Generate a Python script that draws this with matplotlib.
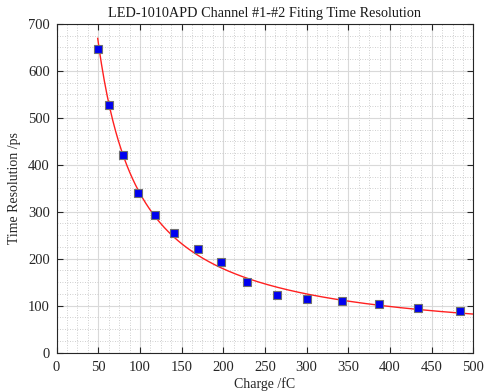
import numpy as np
import matplotlib
matplotlib.use("Agg")
import matplotlib.pyplot as plt
from matplotlib.ticker import MultipleLocator

# Measured time resolution versus collected charge
charge_fc = [50, 63, 80, 98, 118, 141, 169.5, 197, 228, 264, 301, 342, 387, 433, 484]
resolution_ps = [646, 527, 420, 340, 294, 254, 220, 194, 151, 123, 114, 110, 104, 96, 89]

# Fit model: sigma(Q) = a/Q + c
fit_a = 32100.0
fit_c = 18.0
fit_range = (49.3, 500)

plt.rcParams["font.family"] = ["Liberation Serif", "DejaVu Serif"]

fig = plt.figure(figsize=(4.88, 3.91), dpi=100)
ax = fig.add_axes([0.116, 0.098, 0.854, 0.841])

q = np.linspace(fit_range[0], fit_range[1], 400)
ax.plot(q, fit_a / q + fit_c, color="#ff2020", lw=1.0, zorder=3)
ax.plot(charge_fc, resolution_ps, ls="none", marker="s", ms=6.3,
        mfc="#0000f0", mec="#707070", mew=0.8, zorder=4)

ax.set_xlim(0, 500)
ax.set_ylim(0, 700)
ax.xaxis.set_major_locator(MultipleLocator(50))
ax.xaxis.set_minor_locator(MultipleLocator(12.5))
ax.yaxis.set_major_locator(MultipleLocator(100))
ax.yaxis.set_minor_locator(MultipleLocator(25))

ax.grid(which="major", color="#d9d9d9", lw=0.8, ls="-")
ax.grid(which="minor", color="#c0c0c0", lw=0.6, ls=(0, (1, 2)))
ax.set_axisbelow(True)

ax.tick_params(which="major", direction="in", length=4, width=0.8, top=True, right=True,
               labelsize=10.5, colors="#262626", labelcolor="#262626")
ax.tick_params(axis="x", which="major", pad=6)
ax.tick_params(axis="y", which="major", pad=5)
ax.tick_params(which="minor", length=0, top=True, right=True)
for s in ax.spines.values():
    s.set_color("#262626")
    s.set_linewidth(0.8)

ax.set_title("LED-1010APD Channel #1-#2 Fiting Time Resolution", fontsize=10.3, color="#1a1a1a", pad=5)
ax.set_xlabel("Charge /fC", fontsize=10, color="#262626", labelpad=2)
ax.set_ylabel("Time Resolution /ps", fontsize=10, color="#262626", labelpad=5)

fig.savefig("out.png", dpi=100)
